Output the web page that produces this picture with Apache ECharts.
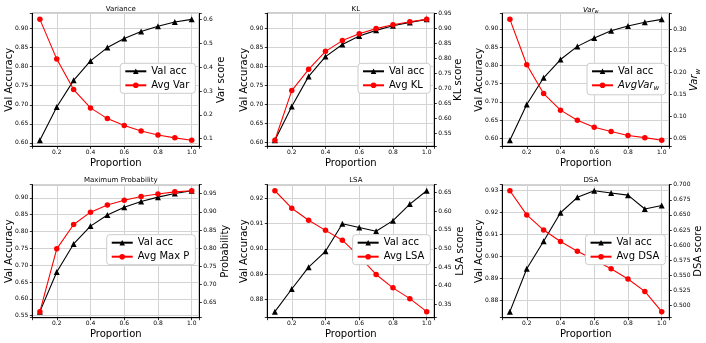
<!DOCTYPE html>
<html><head><meta charset="utf-8">
<script src="https://cdn.jsdelivr.net/npm/echarts@6/dist/echarts.min.js"></script>
<style>html,body{margin:0;padding:0;background:#fff}#c{width:706px;height:343px}</style>
</head><body><div id="c"></div>
<script>
// ---------------- data ----------------
const proportion = [0.1, 0.2, 0.3, 0.4, 0.5, 0.6, 0.7, 0.8, 0.9, 1.0];

const varAcc   = [0.607, 0.694, 0.764, 0.815, 0.850, 0.874, 0.892, 0.906, 0.917, 0.924];
const varScore = [0.601, 0.434, 0.306, 0.229, 0.184, 0.155, 0.132, 0.115, 0.103, 0.093];

const klAcc    = [0.606, 0.695, 0.774, 0.826, 0.858, 0.880, 0.895, 0.907, 0.916, 0.924];
const klScore  = [0.526, 0.692, 0.763, 0.823, 0.859, 0.882, 0.899, 0.912, 0.922, 0.930];

const varwAcc   = [0.595, 0.693, 0.766, 0.816, 0.852, 0.875, 0.895, 0.908, 0.918, 0.926];
const varwScore = [0.322, 0.218, 0.152, 0.114, 0.091, 0.075, 0.065, 0.056, 0.051, 0.045];

const mpAcc    = [0.562, 0.680, 0.763, 0.816, 0.849, 0.872, 0.889, 0.902, 0.913, 0.921];
const mpScore  = [0.625, 0.798, 0.865, 0.899, 0.919, 0.932, 0.942, 0.949, 0.955, 0.958];

const lsaAcc   = [0.875, 0.884, 0.8927, 0.899, 0.910, 0.9085, 0.907, 0.9112, 0.9178, 0.9231];
const lsaScore = [0.655, 0.608, 0.5755, 0.5485, 0.522, 0.4785, 0.430, 0.394, 0.365, 0.330];

const dsaAcc   = [0.875, 0.8945, 0.907, 0.920, 0.927, 0.930, 0.929, 0.928, 0.9217, 0.9233];
const dsaScore = [0.690, 0.650, 0.625, 0.606, 0.590, 0.576, 0.561, 0.544, 0.5235, 0.490];

const panelTitles     = ['Variance', 'KL', '{i|Var}{s|w}', 'Maximum Probability', 'LSA', 'DSA'];
const accName         = 'Val acc';
const scoreNames      = ['Avg Var', 'Avg KL', 'AvgVarw', 'Avg Max P', 'Avg LSA', 'Avg DSA'];
const leftAxisName    = 'Val Accuracy';
const rightAxisNames  = ['Var score', 'KL score', '{i|Var}{s|w}', 'Probability', 'LSA score', 'DSA score'];
const xAxisName       = 'Proportion';
const xTickStep       = 0.2;
const leftTickStep    = [0.05, 0.05, 0.05, 0.05, 0.01, 0.01];
const rightTickStep   = [0.1, 0.05, 0.05, 0.05, 0.05, 0.025];
const rightDecimals   = [1, 2, 2, 2, 2, 3];

const accSets   = [varAcc, klAcc, varwAcc, mpAcc, lsaAcc, dsaAcc];
const scoreSets = [varScore, klScore, varwScore, mpScore, lsaScore, dsaScore];

// ---------------- layout ----------------
const FONT = 'DejaVu Sans';
const colLeft = [32.3, 267.3, 502.3];
const rowTop = [13.3, 184.7];
const W = 167, H = 133;
const rightGap = [17, 19, 19, 21, 21, 24];

const rnd = v => Math.round(v * 1e9) / 1e9;
function mplRange(arr) {
  const mn = Math.min(...arr), mx = Math.max(...arr), d = mx - mn;
  return [rnd(mn - 0.05 * d), rnd(mx + 0.05 * d)];
}
function tickFmt(step, dec) {
  return v => {
    const k = v / step;
    return Math.abs(k - Math.round(k)) > 1e-6 ? '' : v.toFixed(dec);
  };
}
const richSub = {
  i: { fontStyle: 'italic', fontFamily: FONT, fontSize: 10, color: '#000' },
  s: { fontStyle: 'italic', fontFamily: FONT, fontSize: 7, color: '#000', padding: [6, 0, 0, 0] }
};
const richSubSmall = {
  i: { fontStyle: 'italic', fontFamily: FONT, fontSize: 7, color: '#000' },
  s: { fontStyle: 'italic', fontFamily: FONT, fontSize: 5, color: '#000', padding: [4, 0, 0, 0] }
};

const xr = mplRange(proportion);
const grids = [], xAxes = [], yAxes = [], series = [], legends = [], titles = [];

for (let i = 0; i < 6; i++) {
  const c = i % 3, r = Math.floor(i / 3);
  const L = colLeft[c], T = rowTop[r];
  grids.push({ left: L, top: T, width: W, height: H, show: true, borderColor: '#000', borderWidth: 1, backgroundColor: '#fff' });

  xAxes.push({
    type: 'value', gridIndex: i, min: xr[0], max: xr[1],
    minInterval: xTickStep, maxInterval: xTickStep, splitNumber: 5,
    name: xAxisName, nameLocation: 'middle', nameGap: 12, nameMoveOverlap: false,
    nameTextStyle: { fontFamily: FONT, fontSize: 10, color: '#000' },
    axisLine: { show: true, onZero: false, lineStyle: { color: '#000', width: 1 } },
    axisTick: { show: true, length: 2.5, lineStyle: { color: '#000', width: 0.8 } },
    axisLabel: { fontFamily: FONT, fontSize: 6, color: '#000', margin: 3, formatter: tickFmt(xTickStep, 1), hideOverlap: false },
    splitLine: { show: true, lineStyle: { color: '#d3d3d3', width: 1 } }
  });

  const lr = mplRange(accSets[i]);
  yAxes.push({
    type: 'value', gridIndex: i, position: 'left', min: lr[0], max: lr[1],
    minInterval: leftTickStep[i], maxInterval: leftTickStep[i], splitNumber: 6,
    name: leftAxisName, nameLocation: 'middle', nameGap: 18, nameRotate: 90, nameMoveOverlap: false,
    nameTextStyle: { fontFamily: FONT, fontSize: 10, color: '#000' },
    axisLine: { show: true, onZero: false, lineStyle: { color: '#000', width: 1 } },
    axisTick: { show: true, length: 2.5, lineStyle: { color: '#000', width: 0.8 } },
    axisLabel: { fontFamily: FONT, fontSize: 6, color: '#000', margin: 4, formatter: tickFmt(leftTickStep[i], 2), hideOverlap: false },
    splitLine: { show: true, lineStyle: { color: '#d3d3d3', width: 1 } }
  });

  const rr = mplRange(scoreSets[i]);
  yAxes.push({
    type: 'value', gridIndex: i, position: 'right', min: rr[0], max: rr[1],
    minInterval: rightTickStep[i], maxInterval: rightTickStep[i], splitNumber: 6,
    name: rightAxisNames[i], nameLocation: 'middle', nameGap: rightGap[i], nameRotate: 90, nameMoveOverlap: false,
    nameTextStyle: { fontFamily: FONT, fontSize: 10, color: '#000', rich: richSub },
    axisLine: { show: true, onZero: false, lineStyle: { color: '#000', width: 1 } },
    axisTick: { show: true, length: 2.5, lineStyle: { color: '#000', width: 0.8 } },
    axisLabel: { fontFamily: FONT, fontSize: 6, color: '#000', margin: 4, formatter: tickFmt(rightTickStep[i], rightDecimals[i]), hideOverlap: false },
    splitLine: { show: false }
  });

  series.push({
    type: 'line', name: accName, xAxisIndex: i, yAxisIndex: 2 * i,
    data: proportion.map((x, k) => [x, accSets[i][k]]),
    symbol: 'triangle', symbolSize: 6, showAllSymbol: true,
    lineStyle: { color: '#000', width: 1.1 }, itemStyle: { color: '#000' },
    emphasis: { disabled: true }, animation: false
  });
  series.push({
    type: 'line', name: scoreNames[i], xAxisIndex: i, yAxisIndex: 2 * i + 1,
    data: proportion.map((x, k) => [x, scoreSets[i][k]]),
    symbol: 'circle', symbolSize: 5.5, showAllSymbol: true,
    lineStyle: { color: '#ff0000', width: 1.1 }, itemStyle: { color: '#ff0000' },
    emphasis: { disabled: true }, animation: false
  });

  legends.push({
    orient: 'vertical', right: 706 - (L + W) + 4, top: T + H / 2 - 16.5,
    data: [accName, scoreNames[i]], selectedMode: false,
    backgroundColor: '#fff', borderColor: '#cccccc', borderWidth: 1, borderRadius: 3,
    padding: [3, 6, 3, 4], itemGap: 4, itemWidth: 21, itemHeight: 7,
    textStyle: { fontFamily: FONT, fontSize: 10, color: '#000', rich: richSub },
    formatter: n => (n === 'AvgVarw' ? '{i|AvgVar}{s|w}' : n)
  });

  titles.push({
    text: panelTitles[i], left: L + W / 2, top: T - 13, textAlign: 'center',
    textStyle: { fontFamily: FONT, fontSize: 7, fontWeight: 'normal', color: '#000', rich: richSubSmall }
  });
}

const chart = echarts.init(document.getElementById('c'), null, { renderer: 'canvas' });
chart.setOption({
  backgroundColor: '#fff', animation: false,
  title: titles, grid: grids, xAxis: xAxes, yAxis: yAxes, series: series, legend: legends,
  tooltip: { show: false }
});
</script></body></html>
